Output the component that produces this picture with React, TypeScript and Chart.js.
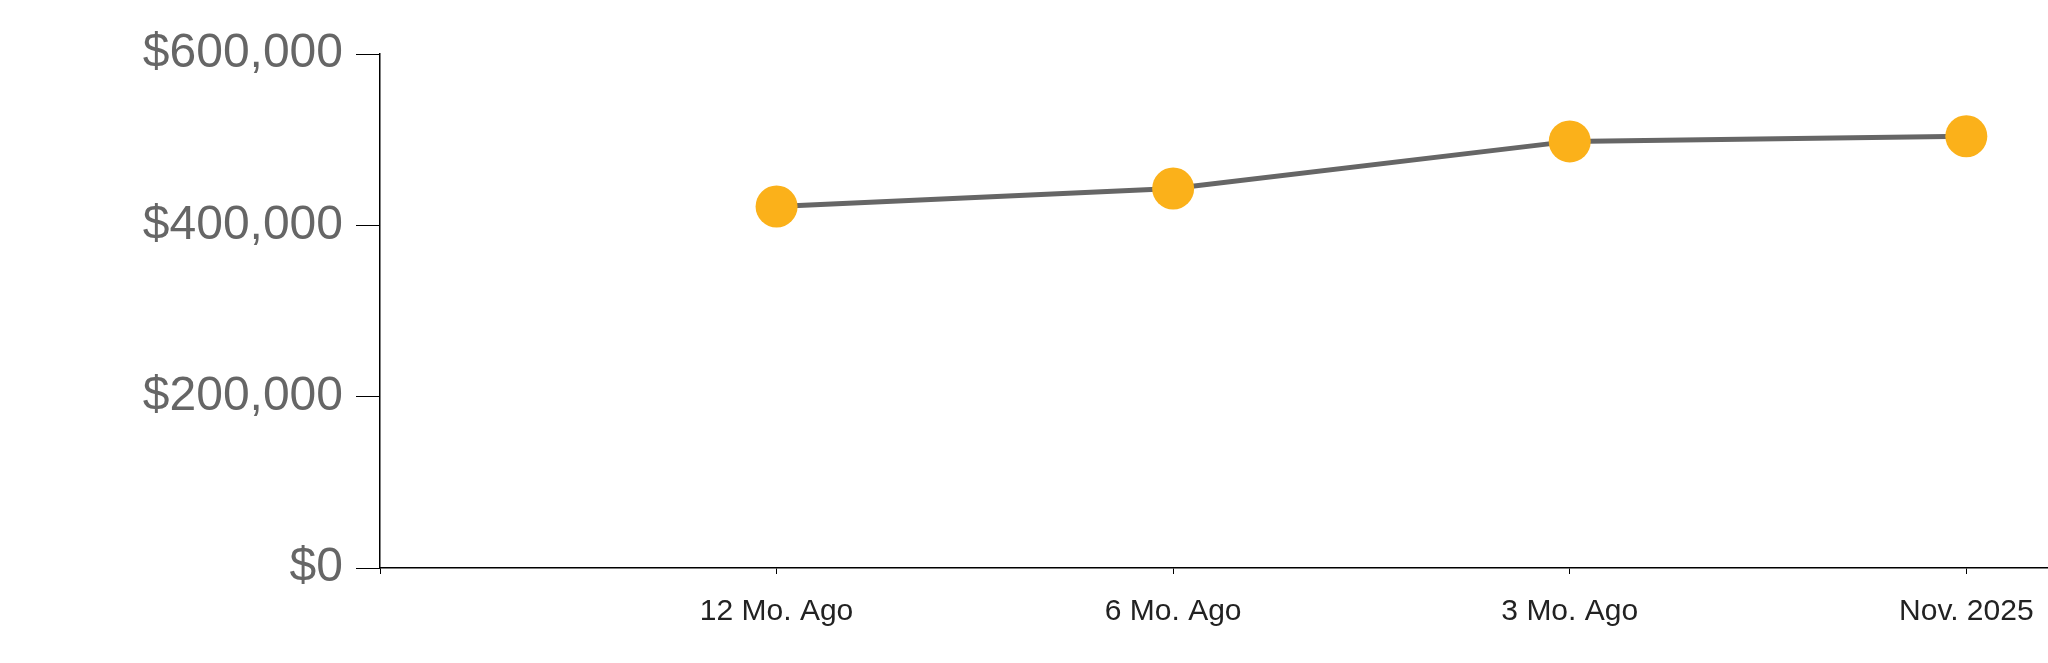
import React, { useEffect, useRef } from "react";
import { Chart, registerables } from "chart.js";

Chart.register(...registerables);

const categories = ["12 Mo. Ago", "6 Mo. Ago", "3 Mo. Ago", "Nov. 2025"];
const values = [422000, 443000, 498000, 504000];
const yTicks = [0, 200000, 400000, 600000];

export default function App() {
  const ref = useRef<HTMLCanvasElement | null>(null);

  useEffect(() => {
    document.body.style.margin = "0";
    const canvas = ref.current;
    if (!canvas) return;
    const data = values.map((v, i) => ({ x: i + 1, y: v }));
    const chart = new Chart(canvas, {
      type: "line",
      data: {
        datasets: [
          {
            data,
            borderColor: "#666666",
            borderWidth: 5,
            pointRadius: 21,
            pointHoverRadius: 21,
            pointBackgroundColor: "#FBB11A",
            pointBorderColor: "#FBB11A",
            pointBorderWidth: 0,
            tension: 0,
            clip: false,
          },
        ],
      },
      options: {
        animation: false,
        responsive: false,
        maintainAspectRatio: false,
        layout: { autoPadding: false, padding: { top: 54, right: 0, bottom: 13, left: 0 } },
        plugins: { legend: { display: false }, tooltip: { enabled: false } },
        scales: {
          x: {
            type: "linear",
            min: 0,
            max: 4.206,
            afterBuildTicks: (axis: any) => {
              axis.ticks = [0, 1, 2, 3, 4].map((v) => ({ value: v }));
            },
            afterFit: (axis: any) => {
              axis.paddingLeft = 0;
              axis.paddingRight = 0;
            },
            grid: {
              display: true,
              drawOnChartArea: false,
              drawTicks: true,
              tickLength: 6,
              color: "#000000",
              tickColor: "#000000",
            },
            border: { display: true, color: "#000000", width: 1.5 },
            ticks: {
              autoSkip: false,
              maxRotation: 0,
              padding: 20,
              color: "#222222",
              font: { family: "'Liberation Sans', Arial, sans-serif", size: 30 },
              callback: (v: any) => (v >= 1 && v <= 4 ? categories[Math.round(v) - 1] : ""),
            },
          },
          y: {
            type: "linear",
            min: 0,
            max: 600000,
            afterBuildTicks: (axis: any) => {
              axis.ticks = yTicks.map((v) => ({ value: v }));
            },
            afterFit: (axis: any) => {
              axis.width = 380;
            },
            grid: {
              display: true,
              drawOnChartArea: false,
              drawTicks: true,
              tickLength: 24,
              color: "#000000",
              tickColor: "#000000",
            },
            border: { display: true, color: "#000000", width: 1.5 },
            ticks: {
              padding: 13,
              color: "#666666",
              font: { family: "'Liberation Sans', Arial, sans-serif", size: 48 },
              callback: (v: any) => "$" + Number(v).toLocaleString("en-US"),
            },
          },
        },
      },
    });
    return () => chart.destroy();
  }, []);

  return (
    <div style={{ position: "absolute", left: 0, top: 0, width: 2048, height: 663, background: "#fff" }}>
      <canvas ref={ref} width={2048} height={663} style={{ display: "block" }} />
    </div>
  );
}
